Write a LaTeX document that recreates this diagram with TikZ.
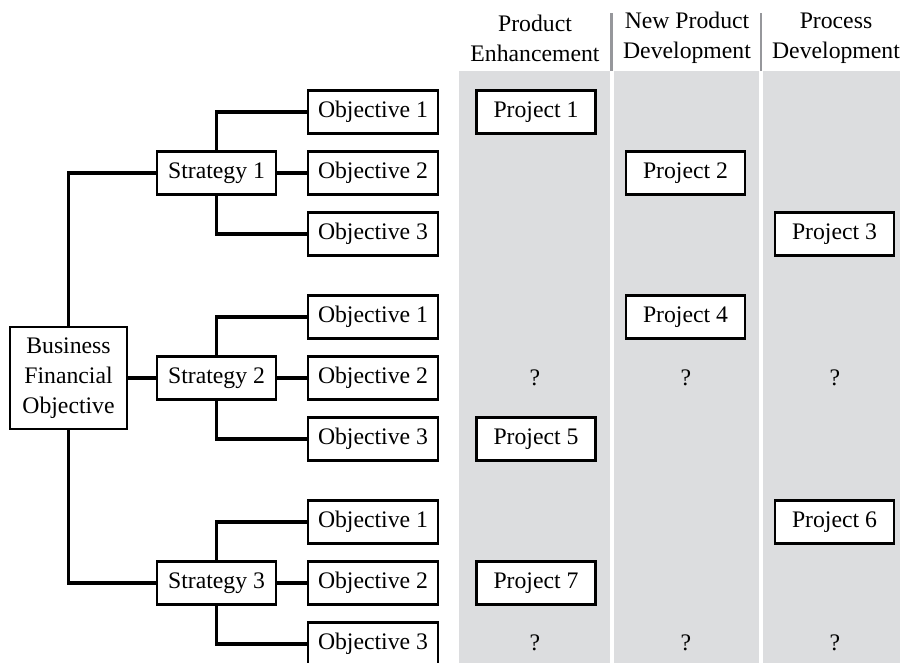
\documentclass[tikz,border=0pt]{standalone}
\usepackage{fontspec}
\setmainfont{Liberation Serif}
\definecolor{colgray}{RGB}{220,221,223}
\definecolor{sepgray}{RGB}{150,151,155}
\begin{document}
\begin{tikzpicture}[x=0.02cm,y=-0.02cm,
    txt/.style={font=\fontsize{13.5}{17}\selectfont},
    box/.style={txt,draw,line width=1.2pt,fill=white,minimum height=0.86cm,inner sep=0pt},
    objbox/.style={box,minimum width=2.6cm},
    stratbox/.style={box,minimum width=2.38cm},
    projbox/.style={box,minimum width=2.38cm},
    link/.style={line width=2pt}]
    \useasboundingbox (0,0) rectangle (900,663);
    % Colonne grigie
    \fill[colgray] (459,71) rectangle (610,663);
    \fill[colgray] (614,71) rectangle (759,663);
    \fill[colgray] (763,71) rectangle (900,663);
    % Separatori dell'intestazione
    \draw[sepgray, line width=1.7pt] (611.5,13) -- (611.5,71);
    \draw[sepgray, line width=1.7pt] (761,13) -- (761,71);
    % Intestazioni
    \node[txt, align=center] (hpe) at (535,38) {Product\\Enhancement};
    \node[txt, align=center] (hnp) at (687,38) {New Product\\Development};
    \node[txt, align=center] (hpd) at (836,38) {Process\\Development};
    % Obiettivo finanziario
    \node[box, align=center, minimum width=2.34cm, minimum height=2.04cm] (bfo) at (68.5,378) {Business\\Financial\\Objective};
    % Strategie e obiettivi
    \foreach \g/\y in {1/173,2/378,3/583} {
        \node[stratbox] (s\g) at (216.5,\y) {Strategy \g};
        \node[objbox] (s\g o1) at (373,\y-61) {Objective 1};
        \node[objbox] (s\g o2) at (373,\y) {Objective 2};
        \node[objbox] (s\g o3) at (373,\y+61) {Objective 3};
        \draw[link] (s\g.north) |- (s\g o1.west);
        \draw[link] (s\g.east) -- (s\g o2.west);
        \draw[link] (s\g.south) |- (s\g o3.west);
    }
    \draw[link] (bfo.north) |- (s1.west);
    \draw[link] (bfo.east) -- (s2.west);
    \draw[link] (bfo.south) |- (s3.west);
    % Progetti
    \node[projbox] (p1) at (536,112) {Project 1};
    \node[projbox] (p2) at (685.5,173) {Project 2};
    \node[projbox] (p3) at (834.5,234) {Project 3};
    \node[projbox] (p4) at (685.5,317) {Project 4};
    \node[projbox] (p5) at (536,439) {Project 5};
    \node[projbox] (p6) at (834.5,522) {Project 6};
    \node[projbox] (p7) at (536,583) {Project 7};
    % Punti interrogativi
    \node[txt] (q1) at (535,378) {?};
    \node[txt] (q2) at (686,378) {?};
    \node[txt] (q3) at (835,378) {?};
    \node[txt] (q4) at (535,643) {?};
    \node[txt] (q5) at (686,643) {?};
    \node[txt] (q6) at (835,643) {?};
\end{tikzpicture}
\end{document}
